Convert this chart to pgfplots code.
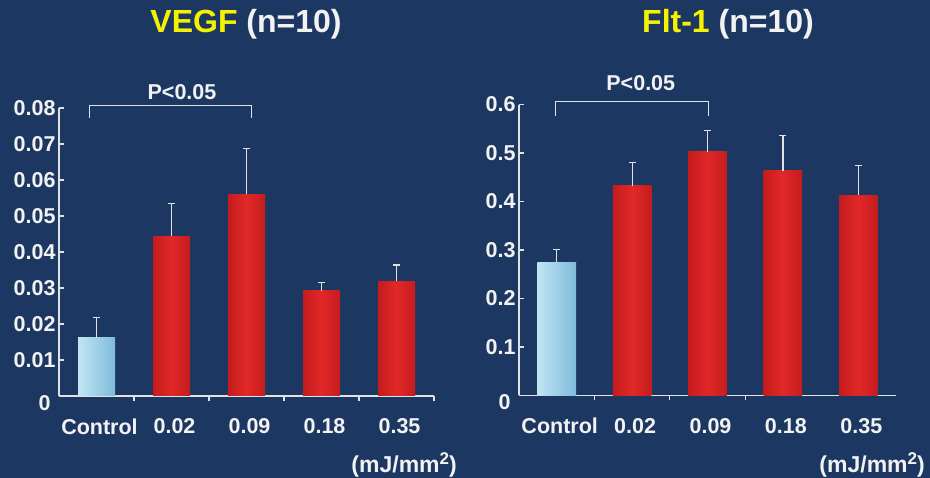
\documentclass[border=0pt]{standalone}
\usepackage{pgfplots}
\pgfplotsset{compat=1.18}
\usepackage{fontspec}
\setmainfont{Liberation Sans}
\definecolor{bg}{HTML}{1C3862}
\definecolor{txt}{HTML}{F2F2F2}
\definecolor{ttl}{HTML}{F5F200}
\definecolor{redM}{HTML}{E22828}
\definecolor{redR}{HTML}{C41C1E}
\definecolor{bluL}{HTML}{C0E6F4}
\definecolor{bluR}{HTML}{80BADA}
\definecolor{axc}{HTML}{E2E2E2}
\pgfplotsset{
  panel/.style={
    scale only axis,
    axis x line*=bottom, axis y line*=left,
    axis line style={axc, line width=1.2pt, -},
    tick style={axc, line width=1.2pt},
    tick align=inside, major tick length=5pt,
    xmin=-0.5, xmax=4.5, ymin=0,
    scaled y ticks=false,
    xticklabels={},
    extra x ticks={0,1,2,3,4},
    extra x tick labels={Control,0.02,0.09,0.18,0.35},
    extra x tick style={major tick length=0pt, xticklabel style={yshift=-19pt, xshift=3pt}},
    extra y ticks={0}, extra y tick labels={0},
    extra y tick style={major tick length=0pt, yticklabel style={xshift=-5pt, yshift=-7pt}},
    tick label style={font=\fontsize{21.5}{25}\selectfont\bfseries, text=txt},
    /pgf/number format/assume math mode=true,
    clip=false,
    ybar,
  },
  cbar/.style={bar shift=0pt, draw=none, left color=bluL, right color=bluR},
  rbar/.style={bar shift=0pt, draw=none, left color=redR, right color=redR, middle color=redM},
  errs/.style={bar shift=0pt, draw=none, fill=none, forget plot,
    error bars/.cd, y dir=plus, y explicit, error mark=|,
    error bar style={draw=axc, line width=1.2pt},
    error mark options={draw=axc, line width=1.2pt, mark size=3.5pt}},
}
\newcommand\unitlab{(mJ/mm{\fontsize{17}{17}\selectfont\raisebox{0.45em}{2}})}
\begin{document}
\begin{tikzpicture}[x=1pt,y=1pt]
\fill[bg] (0,0) rectangle (930,478);
\node[font=\fontsize{32}{36}\selectfont\bfseries] at (246,454) {\textcolor{ttl}{VEGF} \textcolor{txt}{(n=10)}};
\node[font=\fontsize{32}{36}\selectfont\bfseries] at (728,454) {\textcolor{ttl}{Flt-1} \textcolor{txt}{(n=10)}};
\node[anchor=east, inner sep=0pt, font=\fontsize{23}{26}\selectfont\bfseries, text=txt] at (457,13) {\unitlab};
\node[anchor=east, inner sep=0pt, font=\fontsize{23}{26}\selectfont\bfseries, text=txt] at (925,13) {\unitlab};

\begin{axis}[panel, at={(59pt,82pt)}, anchor=south west, width=375pt, height=288pt,
  ymax=0.08, bar width=37pt,
  xtick={0.5,1.5,2.5,3.5,4.5},
  ytick={0.01,0.02,0.03,0.04,0.05,0.06,0.07,0.08},
  yticklabels={0.01,0.02,0.03,0.04,0.05,0.06,0.07,0.08}]
\addplot[cbar] coordinates {(0,0.0162)};
\addplot[rbar] coordinates {(1,0.0444)};
\addplot[rbar] coordinates {(2,0.0560)};
\addplot[rbar] coordinates {(3,0.0292)};
\addplot[rbar] coordinates {(4,0.0319)};
\addplot[errs] coordinates {(0,0.0162) +- (0,0.0055) (1,0.0444) +- (0,0.0090) (2,0.0560) +- (0,0.0128) (3,0.0292) +- (0,0.0023) (4,0.0319) +- (0,0.0045)};
\draw[axc, line width=1pt] (axis cs:-0.087,0.0772) -- (axis cs:-0.087,0.0806) -- (axis cs:2.067,0.0806) -- (axis cs:2.067,0.0772);
\node[font=\fontsize{21.5}{25}\selectfont\bfseries, text=txt] at (axis cs:1.14,0.0844) {P<0.05};
\end{axis}

\begin{axis}[panel, at={(519pt,82.5pt)}, anchor=south west, width=377pt, height=291pt,
  ymax=0.6, bar width=38.6pt,
  xtick={0.5,1.5,2.5},
  ytick={0.1,0.2,0.3,0.4,0.5,0.6},
  yticklabels={0.1,0.2,0.3,0.4,0.5,0.6}]
\addplot[cbar] coordinates {(0,0.275)};
\addplot[rbar] coordinates {(1,0.432)};
\addplot[rbar] coordinates {(2,0.503)};
\addplot[rbar] coordinates {(3,0.463)};
\addplot[rbar] coordinates {(4,0.413)};
\addplot[errs] coordinates {(0,0.275) +- (0,0.026) (1,0.432) +- (0,0.049) (2,0.503) +- (0,0.044) (3,0.463) +- (0,0.073) (4,0.413) +- (0,0.062)};
\draw[axc, line width=1pt] (axis cs:-0.013,0.577) -- (axis cs:-0.013,0.606) -- (axis cs:2.007,0.606) -- (axis cs:2.007,0.577);
\node[font=\fontsize{21.5}{25}\selectfont\bfseries, text=txt] at (axis cs:1.115,0.644) {P<0.05};
\end{axis}
\end{tikzpicture}
\end{document}
